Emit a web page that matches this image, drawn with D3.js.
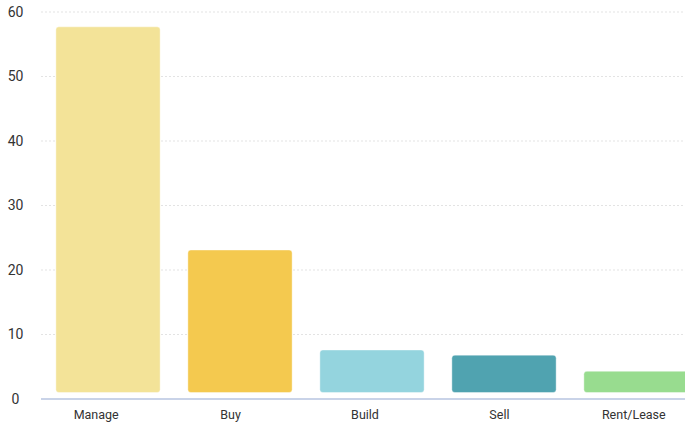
<!DOCTYPE html>
<html>
<head>
<meta charset="utf-8">
<script src="https://cdn.jsdelivr.net/npm/d3@7"></script>
<style>
  html, body { margin: 0; padding: 0; background: #fff; }
  svg { display: block; font-family: Roboto, "Noto Sans", sans-serif; }
</style>
</head>
<body>
<svg id="chart" width="685" height="425"></svg>
<script>
const categories = ["Manage", "Buy", "Build", "Sell", "Rent/Lease"];
const values = [57.7, 23.1, 7.6, 6.8, 4.3];
const colors = ["#f3e398", "#f4c94f", "#94d4de", "#50a3b0", "#98dc8f"];
const yTicks = [0, 10, 20, 30, 40, 50, 60];

const svg = d3.select("#chart");
const plotLeft = 41, plotRight = 685;

const y = d3.scaleLinear().domain([0, 60]).range([399, 12]);
const xBar = d3.scaleBand().domain(categories).range([42, 702]).paddingInner(0.21).paddingOuter(0.105);
const xLab = d3.scaleBand().domain(categories).range([29, 701]);

// gridlines
svg.append("g").selectAll("line")
  .data(yTicks.filter(d => d !== 0))
  .join("line")
  .attr("x1", plotLeft).attr("x2", plotRight)
  .attr("y1", d => y(d)).attr("y2", d => y(d))
  .attr("stroke", "#e3e3e3").attr("stroke-width", 1)
  .attr("stroke-dasharray", "2,2");

// y labels
svg.append("g").selectAll("text")
  .data(yTicks)
  .join("text")
  .attr("x", 15.5).attr("y", d => y(d))
  .attr("dy", "0.35em")
  .attr("text-anchor", "middle")
  .attr("font-size", 14)
  .attr("fill", "#333")
  .text(d => d);

// bars
const gap = 6.5;
svg.append("g").selectAll("rect")
  .data(categories)
  .join("rect")
  .attr("x", d => xBar(d))
  .attr("width", xBar.bandwidth())
  .attr("y", (d, i) => y(values[i]))
  .attr("height", (d, i) => y(0) - gap - y(values[i]))
  .attr("rx", 3).attr("ry", 3)
  .attr("fill", (d, i) => colors[i])
  .attr("stroke", "#ffffff").attr("stroke-opacity", 0.4).attr("stroke-width", 1);

// axis line
svg.append("line")
  .attr("x1", plotLeft).attr("x2", plotRight)
  .attr("y1", y(0)).attr("y2", y(0))
  .attr("stroke", "#c9d3e8").attr("stroke-width", 2);

// x labels
svg.append("g").selectAll("text")
  .data(categories)
  .join("text")
  .attr("x", d => xLab(d) + xLab.bandwidth() / 2)
  .attr("y", 415)
  .attr("dy", "0.35em")
  .attr("text-anchor", "middle")
  .attr("font-size", 12.5)
  .attr("fill", "#333")
  .text(d => d);
</script>
</body>
</html>
